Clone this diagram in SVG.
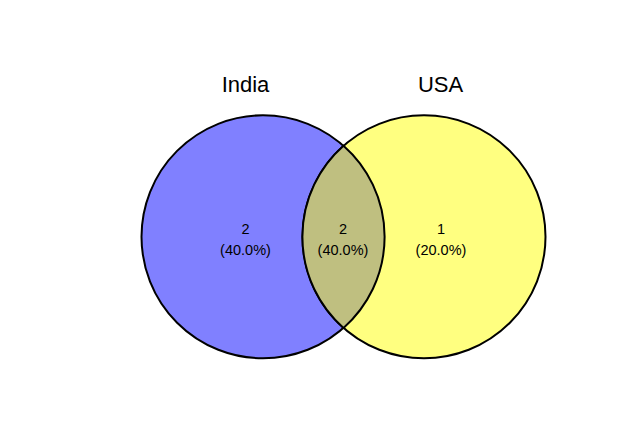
<svg xmlns="http://www.w3.org/2000/svg" width="630" height="421" viewBox="0 0 630 421">
<style>
.c{stroke:#000;stroke-width:2}
.t{font-family:"Liberation Sans",Arial,sans-serif;fill:#000;text-anchor:middle}
.lab{font-size:22px}
.n{font-size:14.5px}
</style>
<rect width="630" height="421" fill="#fff"/>
<g id="india">
<circle class="c" cx="263" cy="236.8" r="121.5" fill="#8080FF"/>
</g>
<g id="usa">
<circle class="c" cx="424" cy="236.8" r="121.5" fill="#FFFF80"/>
</g>
<g id="overlap">
<path d="M343.5,145.7 A121.5,121.5 0 0 1 343.5,327.9 A121.5,121.5 0 0 1 343.5,145.7 Z" fill="#BFBF80"/>
<path d="M343.5,145.7 A121.5,121.5 0 0 1 343.5,327.9 A121.5,121.5 0 0 1 343.5,145.7 Z" fill="none" stroke="#000" stroke-width="2"/>
</g>
<g id="labels">
<text class="t lab" x="245.5" y="92">India</text>
<text class="t lab" x="440.5" y="92">USA</text>
<text class="t n" x="245.5" y="234">2</text>
<text class="t n" x="245.5" y="255">(40.0%)</text>
<text class="t n" x="343" y="234">2</text>
<text class="t n" x="343" y="255">(40.0%)</text>
<text class="t n" x="441" y="234">1</text>
<text class="t n" x="441" y="255">(20.0%)</text>
</g>
</svg>
